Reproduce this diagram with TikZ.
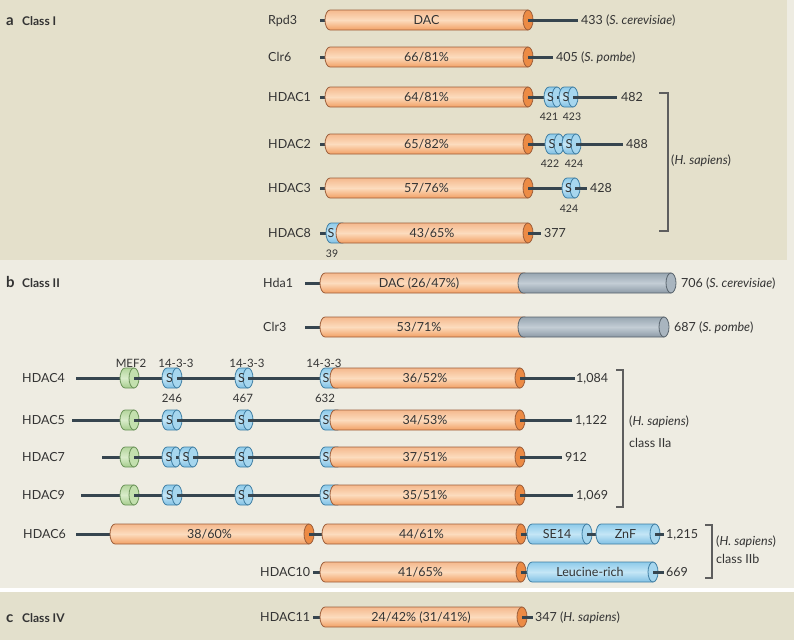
\documentclass[tikz,border=0pt]{standalone}
\usepackage{fontspec}
\setmainfont{Lato}
\definecolor{bgA}{HTML}{E4E0CB}
\definecolor{bgB}{HTML}{EEECE2}
\definecolor{bgC}{HTML}{E3E0CC}
\definecolor{lnC}{HTML}{36454F}
\definecolor{brC}{HTML}{5E5E5E}
\definecolor{txt}{HTML}{333333}
\definecolor{orL}{HTML}{9C5E3A}
\definecolor{or1}{HTML}{F5B98D}
\definecolor{or2}{HTML}{FCDCBE}
\definecolor{or3}{HTML}{F2A064}
\definecolor{orC}{HTML}{EC8B45}
\definecolor{blL}{HTML}{3F7EA3}
\definecolor{bl1}{HTML}{8ECBEA}
\definecolor{bl2}{HTML}{C4E6F6}
\definecolor{bl3}{HTML}{80C0E4}
\definecolor{blC}{HTML}{A6D6EE}
\definecolor{grL}{HTML}{58636C}
\definecolor{gr1}{HTML}{98A6B1}
\definecolor{gr2}{HTML}{C3CDD5}
\definecolor{gr3}{HTML}{8C9AA6}
\definecolor{grC}{HTML}{A9B5BF}
\definecolor{gnL}{HTML}{6A9258}
\definecolor{gn1}{HTML}{B3D59C}
\definecolor{gn2}{HTML}{D9ECCA}
\definecolor{gn3}{HTML}{A6CD8D}
\definecolor{gnC}{HTML}{C3E0AE}
% cylinder body: kind, x1, x2 (outer right), y
\newcommand\cylshape[4]{%
  \path[#1body] ({#3-5},{#4-10}) -- ({#2+5},{#4-10})
    arc[start angle=270,end angle=90,x radius=5,y radius=10]
    -- ({#3-5},{#4+10}) -- cycle;}
\newcommand\cylcap[3]{\path[#1cap] ({#2-5},#3) ellipse[x radius=5,y radius=10];}
% full cylinder with stub: kind x1 x2 y text name
\newcommand\cyl[6]{%
  \cylshape{#1}{#2}{#3}{#4}
  \cylcap{#1}{#3}{#4}
  \node[intext] (#6) at ({(#2+#3-5)/2},#4) {#5};
  \draw[bb] ({#3-5},#4) -- ({#3+0.5},#4);}
% cylinder without stub
\newcommand\cyln[6]{%
  \cylshape{#1}{#2}{#3}{#4}
  \cylcap{#1}{#3}{#4}
  \node[intext] (#6) at ({(#2+#3-5)/2},#4) {#5};}
% flat-ended cylinder (no cap)
\newcommand\cylf[4]{\cylshape{#1}{#2}{#3}{#4}}
\begin{document}
\begin{tikzpicture}[x=1pt,y=-1pt,
  bb/.style={line width=3pt, draw=lnC},
  brk/.style={line width=1.3pt, draw=brC},
  lab/.style={anchor=base west, yshift=-4.5pt, inner sep=0pt, text=txt, font=\fontsize{12.5}{14}\selectfont},
  intext/.style={anchor=base, yshift=-4.5pt, inner sep=0pt, text=txt, font=\fontsize{12.5}{14}\selectfont},
  small/.style={anchor=base, yshift=-4pt, inner sep=0pt, text=txt, font=\fontsize{10.5}{12}\selectfont},
  toplab/.style={anchor=base, yshift=-4pt, inner sep=0pt, text=txt, font=\fontsize{11.5}{13}\selectfont},
  head/.style={anchor=base west, inner sep=0pt, text=txt, font=\bfseries\fontsize{12}{14}\selectfont},
  headl/.style={anchor=base west, inner sep=0pt, text=txt, font=\bfseries\fontsize{15}{17}\selectfont},
  orbody/.style={draw=orL, line width=0.8pt, top color=or1, bottom color=or3, middle color=or2},
  orcap/.style={draw=orL, line width=0.8pt, fill=orC},
  blbody/.style={draw=blL, line width=0.8pt, top color=bl1, bottom color=bl3, middle color=bl2},
  blcap/.style={draw=blL, line width=0.8pt, fill=blC},
  grbody/.style={draw=grL, line width=0.8pt, top color=gr1, bottom color=gr3, middle color=gr2},
  grcap/.style={draw=grL, line width=0.8pt, fill=grC},
  gnbody/.style={draw=gnL, line width=0.8pt, top color=gn1, bottom color=gn3, middle color=gn2},
  gncap/.style={draw=gnL, line width=0.8pt, fill=gnC},
]
\useasboundingbox (0,0) rectangle (794,640);
% backgrounds
\fill[bgB] (0,0) rectangle (794,640);
\fill[bgA] (0,0) rectangle (787,260);
\fill[white] (0,588) rectangle (794,592);
\fill[bgC] (0,592) rectangle (794,640);

% ================= a Class I =================
\node[headl] (ha) at (6,25) {a};
\node[head] (hca) at (22,25) {Class I};

% Rpd3
\node[lab] (lRpd3) at (268,20) {Rpd3};
\draw[bb] (320,20) -- (578,20);
\cyl{or}{325}{533}{20}{DAC}{cRpd3}
\node[lab] (eRpd3) at (581,20) {433 (\textit{S. cerevisiae})};

% Clr6
\node[lab] (lClr6) at (268,57) {Clr6};
\draw[bb] (320,57) -- (553,57);
\cyl{or}{325}{533}{57}{66/81\%}{cClr6}
\node[lab] (eClr6) at (556,57) {405 (\textit{S. pombe})};

% HDAC1
\node[lab] (lH1) at (268,97) {HDAC1};
\draw[bb] (320,97) -- (617,97);
\cyl{or}{325}{533}{97}{64/81\%}{cH1}
\cyl{bl}{544}{562}{97}{S}{sH1a}
\cyl{bl}{559}{578}{97}{S}{sH1b}
\node[lab] (eH1) at (621,97) {482};
\node[small] (nH1a) at (549,116) {421};
\node[small] (nH1b) at (572,116) {423};

% HDAC2
\node[lab] (lH2) at (268,144) {HDAC2};
\draw[bb] (320,144) -- (623,144);
\cyl{or}{325}{533}{144}{65/82\%}{cH2}
\cyl{bl}{545}{564}{144}{S}{sH2a}
\cyl{bl}{562}{581}{144}{S}{sH2b}
\node[lab] (eH2) at (626,144) {488};
\node[small] (nH2a) at (550,163) {422};
\node[small] (nH2b) at (574,163) {424};

% HDAC3
\node[lab] (lH3) at (268,188) {HDAC3};
\draw[bb] (320,188) -- (587,188);
\cyl{or}{325}{533}{188}{57/76\%}{cH3}
\cyl{bl}{562}{580}{188}{S}{sH3}
\node[lab] (eH3) at (590,188) {428};
\node[small] (nH3) at (569,208) {424};

% HDAC8
\node[lab] (lH8) at (268,233) {HDAC8};
\draw[bb] (320,233) -- (541,233);
\cylf{bl}{326}{348}{233}
\node[intext] (sH8) at (331,233) {S};
\cyl{or}{336}{533}{233}{43/65\%}{cH8}
\node[lab] (eH8) at (544,233) {377};
\node[small] (nH8) at (332,253) {39};

\draw[brk] (659,93) -- (668,93) -- (668,231) -- (659,231);
\node[lab] (spA) at (671,160) {(\textit{H. sapiens})};

% ================= b Class II =================
\node[headl] (hb) at (6,287) {b};
\node[head] (hcb) at (22,287) {Class II};

% Hda1
\node[lab] (lHda1) at (263,283) {Hda1};
\draw[bb] (305,283) -- (330,283);
\cylf{or}{320}{530}{283}
\cyln{gr}{518}{676}{283}{}{gHda1}
\node[intext] (cHda1) at (419,283) {DAC (26/47\%)};
\node[lab] (eHda1) at (681,283) {706 (\textit{S. cerevisiae})};

% Clr3
\node[lab] (lClr3) at (263,327) {Clr3};
\draw[bb] (305,327) -- (330,327);
\cylf{or}{320}{530}{327}
\cyln{gr}{518}{669}{327}{}{gClr3}
\node[intext] (cClr3) at (419,327) {53/71\%};
\node[lab] (eClr3) at (674,327) {687 (\textit{S. pombe})};

% class IIa header labels
\node[toplab] (tM) at (131,363) {MEF2};
\node[toplab] (t1) at (176,363) {14-3-3};
\node[toplab] (t2) at (247,363) {14-3-3};
\node[toplab] (t3) at (324,363) {14-3-3};

% HDAC4
\node[lab] (lH4) at (22,378) {HDAC4};
\draw[bb] (76,378) -- (575,378);
\cyl{gn}{120}{139}{378}{}{mH4}
\cyl{bl}{162}{182}{378}{S}{sH4a}
\cyl{bl}{235}{253}{378}{S}{sH4b}
\cylf{bl}{320}{343}{378}
\node[intext] (sH4c) at (326,378) {S};
\cyl{or}{330}{525}{378}{36/52\%}{cH4}
\node[lab] (eH4) at (576,378) {1,084};
\node[toplab] (nH4a) at (172,398) {246};
\node[toplab] (nH4b) at (243,398) {467};
\node[toplab] (nH4c) at (325,398) {632};

% HDAC5
\node[lab] (lH5) at (22,420) {HDAC5};
\draw[bb] (72,420) -- (572,420);
\cyl{gn}{120}{139}{420}{}{mH5}
\cyl{bl}{162}{182}{420}{S}{sH5a}
\cyl{bl}{235}{253}{420}{S}{sH5b}
\cylf{bl}{320}{343}{420}
\node[intext] (sH5c) at (326,420) {S};
\cyl{or}{330}{525}{420}{34/53\%}{cH5}
\node[lab] (eH5) at (575,420) {1,122};

% HDAC7
\node[lab] (lH7) at (22,457) {HDAC7};
\draw[bb] (102,457) -- (562,457);
\cyl{gn}{120}{139}{457}{}{mH7}
\cyl{bl}{162}{181}{457}{S}{sH7a}
\cyl{bl}{179}{198}{457}{S}{sH7b}
\cyl{bl}{235}{253}{457}{S}{sH7c}
\cylf{bl}{320}{343}{457}
\node[intext] (sH7d) at (326,457) {S};
\cyl{or}{330}{525}{457}{37/51\%}{cH7}
\node[lab] (eH7) at (565,457) {912};

% HDAC9
\node[lab] (lH9) at (22,495) {HDAC9};
\draw[bb] (81,495) -- (573,495);
\cyl{gn}{120}{139}{495}{}{mH9}
\cyl{bl}{162}{182}{495}{S}{sH9a}
\cyl{bl}{235}{253}{495}{S}{sH9b}
\cylf{bl}{320}{343}{495}
\node[intext] (sH9c) at (326,495) {S};
\cyl{or}{330}{525}{495}{35/51\%}{cH9}
\node[lab] (eH9) at (576,495) {1,069};

\draw[brk] (616,370) -- (623,370) -- (623,507) -- (616,507);
\node[lab] (spB1) at (629,421) {(\textit{H. sapiens})};
\node[lab] (spB2) at (629,443) {class IIa};

% HDAC6
\node[lab] (lH6) at (23,534) {HDAC6};
\draw[bb] (76,534) -- (664,534);
\cyl{or}{110}{314}{534}{38/60\%}{cH6a}
\cyl{or}{322}{526}{534}{44/61\%}{cH6b}
\cyl{bl}{527}{592}{534}{SE14}{sH6a}
\cyl{bl}{596}{660}{534}{ZnF}{sH6b}
\node[lab] (eH6) at (666,534) {1,215};

% HDAC10
\node[lab] (lH10) at (260,572) {HDAC10};
\draw[bb] (313,572) -- (664,572);
\cyl{or}{320}{526}{572}{41/65\%}{cH10}
\cyl{bl}{527}{658}{572}{Leucine-rich}{sH10}
\node[lab] (eH10) at (666,572) {669};

\draw[brk] (705,525) -- (712,525) -- (712,578) -- (705,578);
\node[lab] (spC1) at (716,541) {(\textit{H. sapiens})};
\node[lab] (spC2) at (716,559) {class IIb};

% ================= c Class IV =================
\node[headl] (hc) at (6,622) {c};
\node[head] (hcc) at (22,622) {Class IV};
\node[lab] (lH11) at (260,617) {HDAC11};
\draw[bb] (313,617) -- (533,617);
\cyl{or}{320}{527}{617}{24/42\% (31/41\%)}{cH11}
\node[lab] (eH11) at (535,617) {347 (\textit{H. sapiens})};
\end{tikzpicture}
\end{document}
